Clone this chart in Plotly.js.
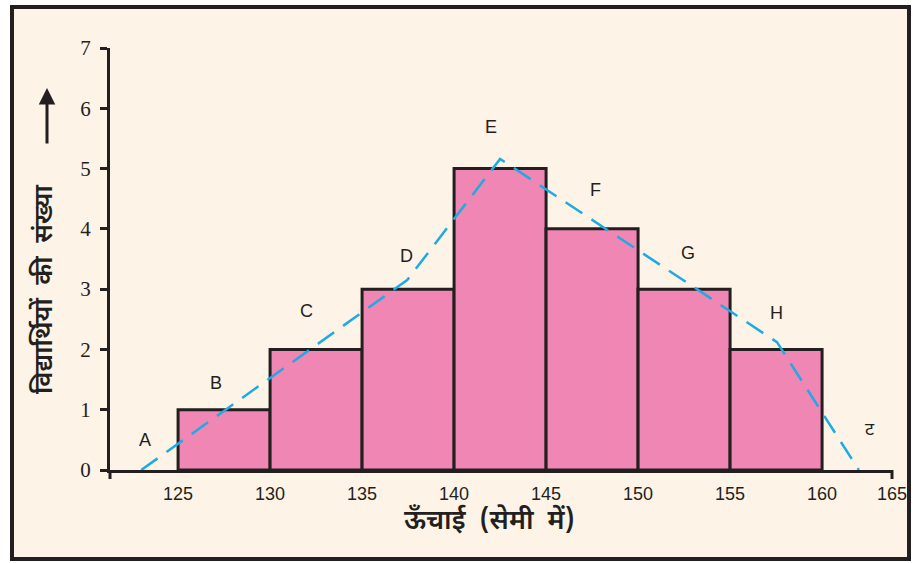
<!DOCTYPE html>
<html>
<head>
<meta charset="utf-8">
<script src="https://cdn.plot.ly/plotly-3.0.1.min.js"></script>
<style>html,body{margin:0;padding:0;background:#fff;}#chart{width:913px;height:563px;}</style>
</head>
<body>
<div id="chart"></div>
<script>
// ---- data ----
const binEdges = [125, 130, 135, 140, 145, 150, 155, 160];
const counts = [1, 2, 3, 5, 4, 3, 2];
const polygonX = [123.0, 137.45, 142.5, 157.55, 162.0];
const polygonY = [0, 3.15, 5.16, 2.12, 0];
const pointLabels = ['A', 'B', 'C', 'D', 'E', 'F', 'G', 'H', 'ट'];
const xTickText = ['125', '130', '135', '140', '145', '150', '155', '160', '165'];
const yTickVals = [0, 1, 2, 3, 4, 5, 6, 7];
const xTitle = 'ऊँचाई  (सेमी  में)';
const yTitle = 'विद्यार्थियों  की  संख्या';

// ---- layout helpers ----
const labelPosX = [123.2, 127.07, 131.96, 137.4, 142.0, 147.7, 152.7, 157.5, 162.6];
const labelPosY = [0.5, 1.44, 2.64, 3.55, 5.69, 4.64, 3.60, 2.61, 0.66];
const xRange = [121.3, 163.8];
const L = 110, R = 892, T = 48, B = 470;
const px = v => (v - L) / (R - L);
const py = v => (B - v) / (B - T);
const ink = '#231f20';
const devFont = '"Noto Sans Devanagari", "Noto Sans", "Lohit Devanagari", sans-serif';

const centers = counts.map((c, i) => (binEdges[i] + binEdges[i + 1]) / 2);
const widths = counts.map((c, i) => binEdges[i + 1] - binEdges[i]);

const traces = [
  {
    type: 'bar', x: centers, y: counts, width: widths,
    marker: {color: '#f086b3', line: {color: ink, width: 3}},
    hoverinfo: 'none'
  },
  {
    type: 'scatter', mode: 'lines', x: polygonX, y: polygonY,
    line: {color: '#1eaae2', width: 2.5, dash: '20px,11px'},
    hoverinfo: 'none'
  }
];

const annotations = pointLabels.map((t, i) => ({
  x: labelPosX[i], y: labelPosY[i], xref: 'x', yref: 'y', text: t, showarrow: false,
  xanchor: 'center', yanchor: 'middle',
  font: {family: i === 8 ? devFont : 'Liberation Sans, Arial, sans-serif', size: 18, color: ink}
}));
annotations.push({
  x: px(489), y: py(522), xref: 'paper', yref: 'paper', text: xTitle, showarrow: false,
  xanchor: 'center', yanchor: 'middle',
  font: {family: devFont, size: 27, color: ink, weight: 600}
});
annotations.push({
  x: px(45), y: py(290), xref: 'paper', yref: 'paper', text: yTitle, showarrow: false,
  xanchor: 'center', yanchor: 'middle',
  textangle: -90, font: {family: devFont, size: 26, color: ink, weight: 600}
});
annotations.push({
  x: px(47), y: py(88), xref: 'paper', yref: 'paper', text: '', showarrow: true,
  ax: 0, ay: 57, axref: 'pixel', ayref: 'pixel', arrowhead: 2, arrowsize: 1.1,
  arrowwidth: 3, arrowcolor: ink, standoff: 0
});

const shapes = [
  {type: 'rect', xref: 'paper', yref: 'paper', layer: 'below',
   x0: px(12), x1: px(909), y0: py(559), y1: py(7),
   fillcolor: '#fdf3e7', line: {color: ink, width: 4}},
  {type: 'line', xref: 'paper', yref: 'paper', x0: 0, x1: 0, y0: 0, y1: py(479),
   line: {color: ink, width: 3}},
  {type: 'line', xref: 'paper', yref: 'paper', x0: 1, x1: 1, y0: 0, y1: py(479),
   line: {color: ink, width: 3}}
];

const tickVals = binEdges.concat([xRange[1]]);

const layout = {
  width: 913, height: 563,
  margin: {l: L, r: 913 - R, t: T, b: 563 - B},
  paper_bgcolor: '#ffffff', plot_bgcolor: 'rgba(0,0,0,0)',
  showlegend: false, bargap: 0,
  xaxis: {
    range: xRange, showgrid: false, zeroline: false, showline: true,
    linecolor: ink, linewidth: 3, ticks: '', tickvals: tickVals, ticktext: xTickText,
    tickfont: {family: 'Liberation Sans, Arial, sans-serif', size: 18, color: ink},
    ticklabelshift: 0, ticklabelstandoff: 5
  },
  yaxis: {
    range: [0, 7], showgrid: false, zeroline: false, showline: true,
    linecolor: ink, linewidth: 3, ticks: 'outside', ticklen: 7, tickwidth: 3, tickcolor: ink,
    tickvals: yTickVals,
    tickfont: {family: 'Liberation Serif, Times New Roman, serif', size: 21, color: ink},
    ticklabelstandoff: 5
  },
  annotations: annotations,
  shapes: shapes
};

Plotly.newPlot('chart', traces, layout, {staticPlot: true});
</script>
</body>
</html>
